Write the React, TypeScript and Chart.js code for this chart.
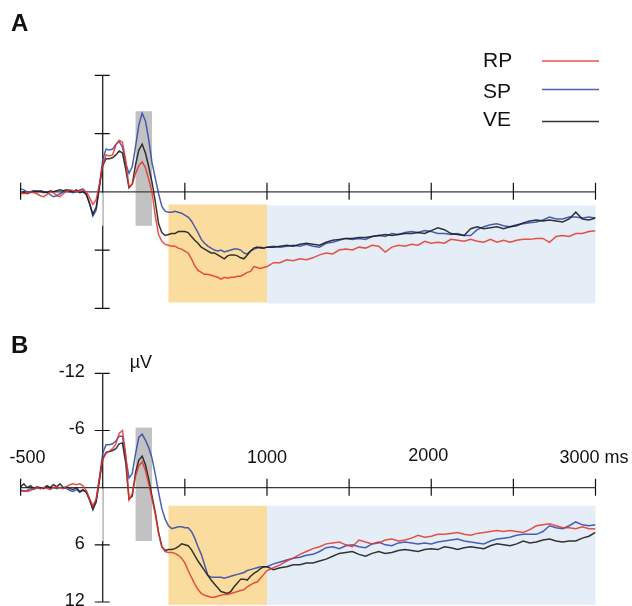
import React, { useEffect, useRef } from "react";
import { Chart, registerables } from "chart.js";

Chart.register(...registerables);

// ---------- DATA ----------
const timeMs = [
  -500, -480, -460, -440, -420, -400, -380, -360, -340, -320,
  -300, -280, -260, -240, -220, -200, -180, -160, -140, -120,
  -100, -80, -60, -40, -20, 0, 20, 40, 60, 80,
  100, 120, 140, 160, 180, 200, 220, 240, 260, 280,
  300, 320, 340, 360, 380, 400, 420, 440, 460, 480,
  500, 520, 540, 560, 580, 600, 620, 640, 660, 680,
  700, 720, 740, 760, 780, 800, 820, 840, 860, 880,
  900, 920, 940, 960, 980, 1000,
  1040, 1080, 1120, 1160, 1200, 1240, 1280, 1320, 1360, 1400,
  1440, 1480, 1520, 1560, 1600, 1640, 1680, 1720, 1760, 1800,
  1840, 1880, 1920, 1960, 2000, 2040, 2080, 2120, 2160, 2200,
  2240, 2280, 2320, 2360, 2400, 2440, 2480, 2520, 2560, 2600,
  2640, 2680, 2720, 2760, 2800, 2840, 2880, 2920, 2960, 3000,
];

// Panel A (µV)
const rpA = [
  0.1, 0.2, 0.1, 0.0, 0.1, 0.2, 0.4, 0.5, 0.3, 0.0,
  0.1, 0.4, 0.5, 0.2, -0.1, -0.2, -0.1, 0.0, -0.1, -0.2,
  0.0, 0.6, 1.3, 0.8, -0.8, -2.8, -3.8, -3.7, -3.8, -4.8,
  -5.3, -5.1, -3.3, -0.5, -0.8, -1.9, -2.7, -3.1, -2.5, -1.3,
  0.0, 2.5, 4.4, 5.1, 5.4, 5.5, 5.6, 5.6, 5.8, 5.9,
  6.1, 6.3, 6.9, 7.6, 8.1, 8.3, 8.5, 8.5, 8.6, 8.7,
  8.8, 9.0, 8.8, 8.9, 8.8, 8.8, 8.7, 8.7, 8.5, 8.3,
  8.2, 7.7, 7.8, 7.9, 7.8, 7.7,
  7.3, 7.3, 7.0, 7.1, 6.9, 7.0, 6.8, 6.5, 6.3, 6.4,
  6.0, 5.9, 6.0, 5.7, 5.8, 5.5, 5.6, 6.2, 5.7, 5.5,
  5.6, 5.4, 5.5, 5.1, 5.3, 5.2, 5.3, 4.9, 5.0, 5.1,
  4.9, 5.1, 5.2, 4.9, 5.2, 5.0, 5.2, 5.0, 4.9, 4.9,
  4.8, 4.8, 5.2, 4.6, 4.5, 4.6, 4.3, 4.3, 4.1, 4.0,
];
const spA = [
  -0.3, -0.2, 0.0, 0.1, 0.0, -0.1, 0.0, 0.1, 0.0, 0.3,
  0.5, 0.4, 0.2, 0.0, -0.1, 0.0, 0.1, 0.0, -0.2, -0.3,
  0.2, 1.2, 2.5, 1.9, -0.5, -3.3, -4.4, -4.3, -4.4, -4.9,
  -5.2, -4.6, -2.9, -1.9, -2.6, -4.7, -6.9, -8.1, -7.3, -5.4,
  -3.0, -1.4, 0.2, 1.5, 2.0, 2.1, 2.1, 2.0, 2.1, 2.2,
  2.4, 2.6, 3.0, 3.6, 4.2, 4.9, 5.3, 5.6, 5.8, 6.0,
  6.1, 6.0, 6.2, 6.1, 6.0, 5.9, 5.9, 6.0, 6.3, 6.4,
  6.1, 5.9, 5.8, 5.7, 5.8, 5.7,
  5.6, 5.7, 5.6, 5.5, 5.6, 5.4, 5.6, 5.7, 5.3, 5.2,
  5.0, 4.8, 4.9, 4.8, 4.9, 4.6, 4.5, 4.6, 4.3, 4.4,
  4.2, 4.1, 4.2, 4.0, 4.1, 4.3, 4.3, 4.4, 4.3, 4.5,
  4.5, 3.9, 3.6, 3.4, 3.3, 3.5, 3.6, 3.4, 3.3, 3.2,
  3.1, 2.9, 2.6, 2.8, 2.8, 2.6, 2.6, 2.7, 2.6, 2.7,
];
const veA = [
  0.2, 0.0, 0.2, 0.0, -0.1, 0.0, -0.1, 0.0, 0.1, -0.1,
  0.0, -0.1, -0.2, -0.1, -0.2, -0.1, 0.0, -0.2, 0.1, 0.0,
  0.3, 1.2, 2.3, 1.6, -0.6, -2.7, -3.4, -3.4, -3.5, -3.8,
  -4.2, -4.0, -2.3, -0.4, -0.8, -2.8, -4.3, -4.9, -4.0, -2.6,
  -1.0, 1.0, 3.3, 4.2, 4.5, 4.4, 4.3, 4.3, 4.1, 4.1,
  4.1, 4.2, 4.6, 5.0, 5.3, 5.7, 5.9, 6.1, 6.3, 6.3,
  6.5, 6.7, 6.9, 6.6, 6.5, 6.5, 6.6, 6.8, 6.9, 6.5,
  6.1, 5.8, 5.7, 5.8, 5.8, 5.7,
  5.7, 5.6, 5.5, 5.6, 5.4, 5.3, 5.4, 5.5, 5.2, 5.0,
  4.9, 4.8, 4.8, 4.7, 4.7, 4.6, 4.5, 4.4, 4.5, 4.4,
  4.3, 4.3, 4.2, 4.3, 4.0, 3.7, 3.9, 4.3, 4.4, 4.5,
  3.8, 3.6, 3.8, 3.7, 3.6, 3.8, 3.6, 3.5, 3.2, 3.0,
  2.9, 3.0, 2.9, 3.0, 3.1, 2.8, 2.1, 2.8, 2.9, 2.7,
];

// Panel B (µV)
const rpB = [
  0.4, 0.3, 0.4, 0.3, 0.1, 0.0, 0.1, 0.0, 0.1, 0.2,
  0.0, -0.1, 0.0, 0.1, -0.1, -0.3, -0.4, -0.3, -0.4, -0.2,
  0.3, 1.2, 1.9, 1.2, -1.0, -3.0, -3.6, -3.8, -4.1, -4.6,
  -5.7, -6.0, -3.5, 1.3, 0.6, -1.2, -2.3, -2.7, -1.8, -0.4,
  1.2, 2.8, 4.8, 6.2, 6.7, 6.8, 6.8, 6.9, 7.1, 7.4,
  7.9, 8.7, 9.4, 10.1, 10.7, 11.1, 11.3, 11.4, 11.5, 11.5,
  11.4, 11.3, 11.2, 11.2, 11.1, 11.0, 10.9, 10.8, 10.7, 10.4,
  10.2, 10.0, 9.9, 9.5, 9.1, 8.7,
  8.4, 8.1, 7.7, 7.4, 7.0, 6.7, 6.4, 6.2, 5.9, 5.8,
  5.7, 6.0, 6.2, 5.5, 5.7, 5.9, 5.8, 5.5, 5.4, 5.6,
  5.5, 5.3, 5.0, 5.2, 5.1, 4.9, 4.9, 4.8, 4.7, 4.9,
  5.0, 4.8, 4.7, 4.6, 4.5, 4.6, 4.5, 4.6, 4.7, 4.4,
  4.0, 3.9, 3.8, 4.0, 4.2, 4.2, 4.3, 4.1, 4.3, 4.3,
];
const spB = [
  0.2, 0.4, 0.3, 0.1, 0.2, 0.0, 0.1, 0.0, -0.1, 0.1,
  0.0, 0.1, 0.0, 0.0, 0.1, 0.3, 0.4, 0.2, 0.5, 0.3,
  0.4, 1.2, 2.0, 1.3, -1.0, -3.6, -4.5, -4.5, -4.6, -4.9,
  -5.4, -5.4, -3.2, -1.0, -1.5, -3.6, -5.3, -5.6, -5.0, -4.2,
  -3.1, -1.4, 0.5, 2.2, 3.3, 4.0, 4.3, 4.2, 4.1, 4.1,
  4.2, 4.2, 4.6, 5.3, 6.2, 7.0, 8.1, 9.2, 9.4, 9.4,
  9.4, 9.4, 9.5, 9.4, 9.3, 9.2, 9.1, 9.0, 8.9, 8.7,
  8.6, 8.5, 8.4, 8.3, 8.3, 8.3,
  8.0, 7.8, 7.6, 7.4, 7.3, 7.1, 7.0, 6.7, 6.3, 6.2,
  6.4, 6.1, 6.0, 6.2, 6.3, 5.9, 5.7, 6.0, 6.1, 5.8,
  5.7, 5.8, 5.9, 5.8, 5.9, 5.7, 5.6, 5.5, 5.4, 5.6,
  5.7, 5.8, 5.9, 5.6, 5.4, 5.3, 5.2, 5.0, 4.9, 4.9,
  4.9, 4.6, 4.0, 4.2, 4.3, 4.0, 3.6, 3.9, 4.0, 3.9,
];
const veB = [
  -0.1, -0.4, 0.0, -0.2, 0.1, -0.1, 0.0, 0.1, -0.2, 0.0,
  -0.3, -0.1, -0.4, 0.0, -0.1, 0.1, 0.2, 0.0, 0.4, 0.2,
  0.5, 1.3, 2.3, 1.5, -0.8, -3.0, -3.7, -3.8, -3.9, -4.1,
  -4.6, -4.7, -2.6, 1.2, 0.9, -1.6, -2.9, -3.3, -2.4, -0.9,
  0.9, 2.6, 4.7, 6.2, 6.6, 6.5, 6.5, 6.4, 6.2, 5.9,
  6.0, 6.1, 6.5, 7.1, 7.7, 8.2, 8.7, 9.2, 9.7, 10.1,
  10.5, 10.9, 11.0, 11.1, 10.9, 10.4, 10.0, 9.6, 9.6, 9.7,
  9.3, 9.0, 8.8, 8.5, 8.3, 8.3,
  8.6, 8.4, 8.3, 8.1, 8.1, 7.9, 7.9, 7.7, 7.5, 7.2,
  6.9, 6.8, 6.7, 7.0, 7.2, 6.9, 6.7, 6.9, 6.8, 6.6,
  6.5, 6.6, 6.7, 6.5, 6.4, 6.5, 6.2, 6.3, 6.5, 6.3,
  6.2, 6.3, 6.4, 6.1, 5.9, 6.0, 6.1, 5.9, 5.6, 5.8,
  5.7, 5.5, 5.4, 5.6, 5.7, 5.6, 5.6, 5.3, 5.1, 4.7,
];

const seriesLabels = ["RP", "SP", "VE"];
const xTickValues = [-500, 500, 1000, 1500, 2000, 2500, 3000];
const yTickValues = [-12, -6, 6, 12];
const yTickLabels = ["-12", "-6", "6", "12"];
const xLabelValues = [-500, 1000, 2000, 3000];
const xLabelTexts = ["-500", "1000", "2000", "3000 ms"];
const yUnit = "µV";

// analysis windows (ms) and their vertical extents (µV)
const grayWin = [200, 300];
const orangeWin = [400, 1000];
const blueWin = [1000, 3000];
const grayRangeA = [-8.3, 3.5];
const orangeRangeA = [1.3, 11.4];
const blueRangeA = [1.4, 11.5];
const grayRangeB = [-6.3, 5.6];
const orangeRangeB = [1.9, 12.3];
const blueRangeB = [1.9, 12.3];

// ---------- STYLE ----------
const COLORS = ["rgba(230,50,38,0.85)", "rgba(45,68,170,0.85)", "rgba(25,25,25,0.88)"];
const FONT = '"Liberation Sans", Arial, Helvetica, sans-serif';

type PanelCfg = {
  letter: string;
  series: number[][];
  gray: number[];
  orange: number[];
  blue: number[];
  showLabels: boolean;
  showLegend: boolean;
  height: number;
  padding: { top: number; bottom: number; left: number; right: number };
  letterY: number;
};

function overlayPlugin(cfg: PanelCfg) {
  return {
    id: "erpOverlay",
    beforeDatasetsDraw(chart: any) {
      const { ctx } = chart;
      const xs = chart.scales.x;
      const ys = chart.scales.y;
      const X = (v: number) => xs.getPixelForValue(v);
      const Y = (v: number) => ys.getPixelForValue(v);
      ctx.save();
      const rect = (win: number[], rng: number[], color: string) => {
        ctx.fillStyle = color;
        ctx.fillRect(X(win[0]), Y(rng[0]), X(win[1]) - X(win[0]), Y(rng[1]) - Y(rng[0]));
      };
      rect(blueWin, cfg.blue, "#e5edf7");
      rect(orangeWin, cfg.orange, "#f9dc9e");
      rect(grayWin, cfg.gray, "#c2c2c2");

      // x axis
      ctx.lineWidth = 1.2;
      ctx.strokeStyle = "#3a3a3a";
      ctx.beginPath();
      ctx.moveTo(X(-500), Y(0));
      ctx.lineTo(X(3000), Y(0));
      ctx.stroke();
      ctx.strokeStyle = "#111";
      ctx.beginPath();
      xTickValues.forEach((v) => {
        ctx.moveTo(X(v), Y(0) - 9);
        ctx.lineTo(X(v), Y(0) + 8);
      });
      ctx.stroke();

      // y axis
      ctx.strokeStyle = "#111";
      ctx.beginPath();
      ctx.moveTo(X(0), Y(-12));
      ctx.lineTo(X(0), Y(12));
      yTickValues.forEach((v) => {
        ctx.moveTo(X(0) - 8, Y(v));
        ctx.lineTo(X(0) + 7, Y(v));
      });
      ctx.stroke();
      ctx.strokeStyle = "#cfcfcf";
      ctx.lineWidth = 1.6;
      ctx.beginPath();
      ctx.moveTo(X(0), Y(0) + 1);
      ctx.lineTo(X(0), Y(cfg.gray[1]));
      ctx.stroke();
      ctx.restore();
    },
    afterDraw(chart: any) {
      const { ctx } = chart;
      const xs = chart.scales.x;
      const ys = chart.scales.y;
      const X = (v: number) => xs.getPixelForValue(v);
      const Y = (v: number) => ys.getPixelForValue(v);
      ctx.save();
      ctx.fillStyle = "#111";
      ctx.textBaseline = "middle";
      ctx.font = `bold 24px ${FONT}`;
      ctx.textAlign = "left";
      ctx.fillText(cfg.letter, 11, cfg.letterY);

      if (cfg.showLabels) {
        ctx.font = `18px ${FONT}`;
        ctx.textAlign = "right";
        yTickValues.forEach((v, i) => {
          ctx.fillText(yTickLabels[i], X(0) - 18, Y(v) - 1);
        });
        ctx.textAlign = "left";
        ctx.fillText(yUnit, X(0) + 27, Y(-12) - 10);
        const ly = Y(0) - 30;
        xLabelValues.forEach((v, i) => {
          if (i === 0) {
            ctx.textAlign = "left";
            ctx.fillText(xLabelTexts[i], X(v) - 11, ly);
          } else if (i === xLabelValues.length - 1) {
            ctx.textAlign = "right";
            ctx.fillText(xLabelTexts[i], X(v) + 33, ly);
          } else {
            ctx.textAlign = "center";
            ctx.fillText(xLabelTexts[i], X(v) - (i === 2 ? 3 : 0), ly - (i === 2 ? 2 : 0));
          }
        });
      }

      if (cfg.showLegend) {
        ctx.font = `21px ${FONT}`;
        ctx.textAlign = "left";
        const textY = [61, 92, 120];
        const lineY = [61, 89.5, 121.5];
        chart.data.datasets.forEach((ds: any, i: number) => {
          ctx.fillStyle = "#111";
          ctx.fillText(ds.label, 483, textY[i]);
          ctx.strokeStyle = ds.borderColor;
          ctx.lineWidth = 1.6;
          ctx.beginPath();
          ctx.moveTo(542, lineY[i]);
          ctx.lineTo(599, lineY[i]);
          ctx.stroke();
        });
      }
      ctx.restore();
    },
  };
}

function Panel({ cfg, top }: { cfg: PanelCfg; top: number }) {
  const ref = useRef<HTMLCanvasElement>(null);
  useEffect(() => {
    if (!ref.current) return;
    const chart = new Chart(ref.current, {
      type: "line",
      data: {
        datasets: cfg.series.map((vals, i) => ({
          label: seriesLabels[i],
          data: timeMs.map((t, k) => ({ x: t, y: vals[k] })),
          borderColor: COLORS[i],
          borderWidth: 1.5,
          pointRadius: 0,
          tension: 0,
          fill: false,
          order: i === 2 ? 1 : i === 0 ? 0 : 2,
        })),
      },
      options: {
        responsive: false,
        animation: false,
        devicePixelRatio: 1,
        layout: { padding: cfg.padding },
        plugins: { legend: { display: false }, tooltip: { enabled: false }, title: { display: false } },
        events: [],
        scales: {
          x: { type: "linear", min: -500, max: 3000, display: false },
          y: { type: "linear", min: -12, max: 12, reverse: true, display: false },
        },
      },
      plugins: [overlayPlugin(cfg)],
    } as any);
    return () => chart.destroy();
  }, []);
  return (
    <canvas
      ref={ref}
      width={632}
      height={cfg.height}
      style={{ position: "absolute", left: 0, top, width: 632, height: cfg.height, display: "block" }}
    />
  );
}

const panelA: PanelCfg = {
  letter: "A",
  series: [rpA, spA, veA],
  gray: grayRangeA,
  orange: orangeRangeA,
  blue: blueRangeA,
  showLabels: false,
  showLegend: true,
  height: 320,
  padding: { top: 75.3, bottom: 11.7, left: 20.6, right: 36.5 },
  letterY: 24,
};

const panelB: PanelCfg = {
  letter: "B",
  series: [rpB, spB, veB],
  gray: grayRangeB,
  orange: orangeRangeB,
  blue: blueRangeB,
  showLabels: true,
  showLegend: false,
  height: 286,
  padding: { top: 53.3, bottom: 4, left: 20.6, right: 36.5 },
  letterY: 26,
};

export default function App() {
  return (
    <div style={{ position: "absolute", left: 0, top: 0, width: 632, height: 606, background: "#fff", overflow: "hidden" }}>
      <Panel cfg={panelA} top={0} />
      <Panel cfg={panelB} top={320} />
    </div>
  );
}
